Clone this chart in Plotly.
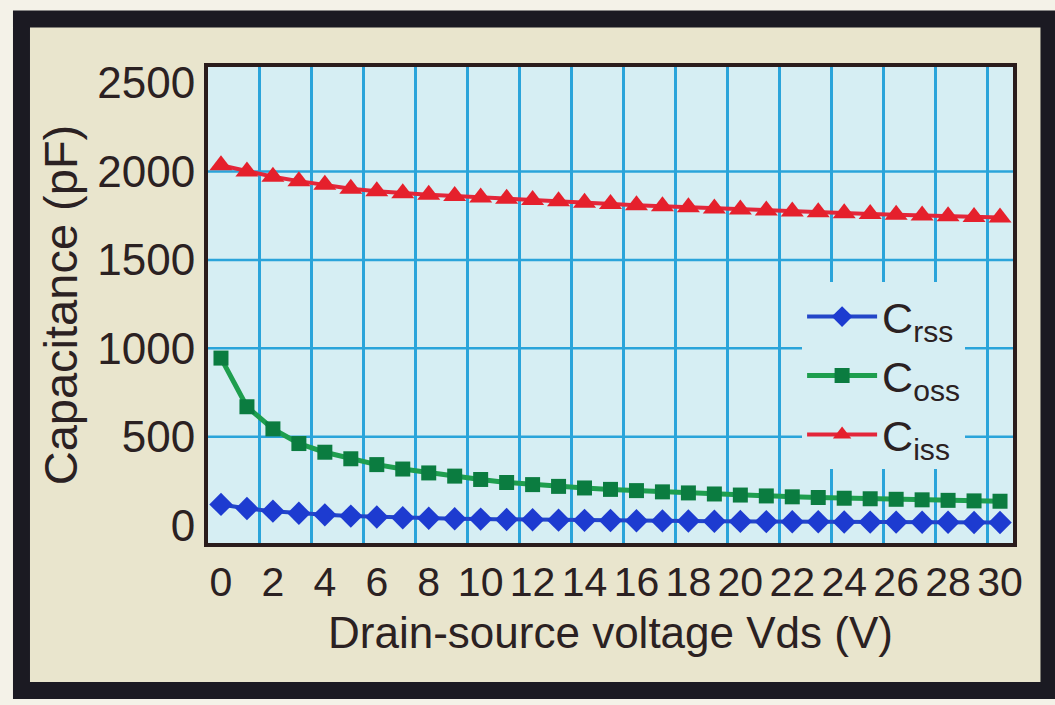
import plotly.graph_objects as go

# Drain-source voltage (V)
vds = list(range(0, 31))

# Capacitance curves (pF)
c_iss = [2035, 2000, 1970, 1945, 1925, 1902, 1888, 1876, 1868, 1861, 1853, 1846, 1839, 1831,
         1823, 1816, 1809, 1803, 1797, 1791, 1785, 1779, 1774, 1769, 1764, 1759, 1755, 1751,
         1747, 1743, 1740]
c_oss = [945, 670, 545, 462, 413, 376, 343, 318, 296, 278, 259, 242, 230, 220, 211, 203,
         196, 189, 183, 177, 171, 166, 161, 157, 153, 150, 147, 144, 141, 138, 136]
c_rss = [118, 95, 80, 68, 59, 52, 47, 43, 40, 37, 35, 33, 31, 29, 28, 27, 26, 25, 24, 23,
         22, 21, 20, 20, 19, 18, 18, 17, 17, 16, 16]

x_ticks = list(range(0, 31, 2))
y_ticks = [0, 500, 1000, 1500, 2000, 2500]
y_grid = [500, 1000, 1500, 2000]

FONT = "Liberation Sans, Arial, sans-serif"
INK = "#2b2122"
PLOT_BG = "#d6eef3"
GRID = "#2aa4da"

fig = go.Figure()

fig.add_trace(go.Scatter(
    x=vds, y=c_rss, name="C<sub>rss</sub>", mode="lines+markers",
    line=dict(color="#2346c8", width=4),
    marker=dict(symbol="diamond", size=18, color="#1d3bd0"),
))
fig.add_trace(go.Scatter(
    x=vds, y=c_oss, name="C<sub>oss</sub>", mode="lines+markers",
    line=dict(color="#1e9e4e", width=5),
    marker=dict(symbol="square", size=15, color="#0b7c40"),
))
fig.add_trace(go.Scatter(
    x=vds, y=c_iss, name="C<sub>iss</sub>", mode="lines+markers",
    line=dict(color="#e3263a", width=4),
    marker=dict(symbol="triangle-up", size=20, color="#e5202c"),
))

shapes = [
    # outer dark frame with beige card
    dict(type="rect", xref="paper", yref="paper", layer="below",
         x0=-0.2317, x1=1.0447, y0=-0.3099, y1=1.1008,
         fillcolor="#e9e5cd", line=dict(color="#1b1a22", width=17)),
    # plot area
    dict(type="rect", xref="paper", yref="paper", layer="below",
         x0=0, x1=1, y0=0, y1=1, fillcolor=PLOT_BG, line=dict(width=0)),
]
for v in y_grid:
    shapes.append(dict(type="line", xref="paper", yref="y", layer="below",
                       x0=0, x1=1, y0=v, y1=v, line=dict(color=GRID, width=2.5)))

fig.update_layout(
    width=1055, height=705,
    margin=dict(l=208, r=42, t=67, b=162),
    paper_bgcolor="#f4f2e8",
    plot_bgcolor="rgba(0,0,0,0)",
    font=dict(family=FONT, color=INK),
    shapes=shapes,
    showlegend=True,
    legend=dict(
        x=0.738, y=0.548, xanchor="left", yanchor="top",
        bgcolor=PLOT_BG, borderwidth=0,
        font=dict(size=43, family=FONT, color=INK),
        itemwidth=70, tracegroupgap=0,
    ),
    xaxis=dict(
        range=[-0.5, 30.5], tickmode="array", tickvals=x_ticks,
        ticks="", showgrid=False, zeroline=False,
        tickfont=dict(size=41, family=FONT, color=INK),
        showline=True, mirror=True, linecolor="#2a1c1c", linewidth=4,
        minor=dict(tick0=1.5, dtick=2, showgrid=True, gridcolor=GRID, gridwidth=2.5, ticks=""),
        title=dict(text="Drain-source voltage Vds (V)", font=dict(size=44, family=FONT, color=INK),
                   standoff=14),
    ),
    yaxis=dict(
        range=[-100, 2590], tickmode="array", tickvals=y_ticks,
        ticks="", showgrid=False, zeroline=False,
        tickfont=dict(size=44, family=FONT, color=INK),
        showline=True, mirror=True, linecolor="#2a1c1c", linewidth=4,
        title=dict(text="Capacitance (pF)", font=dict(size=47, family=FONT, color=INK),
                   standoff=6),
    ),
)

fig.write_html("out.html")
